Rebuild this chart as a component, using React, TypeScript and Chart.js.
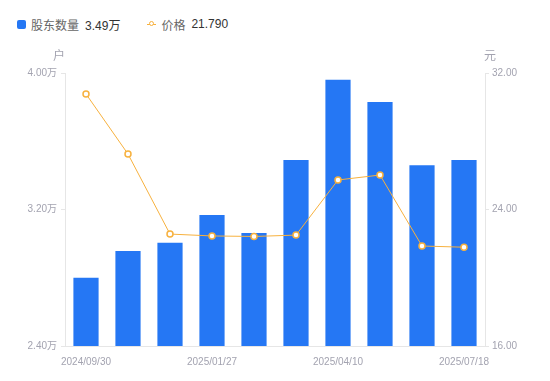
import React, { useEffect, useRef } from "react";
import { Chart, registerables } from "chart.js";

Chart.register(...registerables);

const categories = [
  "2024/09/30", "2024/10/31", "2024/12/31", "2025/01/27", "2025/02/28",
  "2025/03/31", "2025/04/10", "2025/05/30", "2025/06/30", "2025/07/18",
];
const holders = [2.80, 2.957, 3.005, 3.168, 3.062, 3.49, 3.96, 3.83, 3.46, 3.49];
const prices = [30.77, 27.25, 22.56, 22.45, 22.42, 22.5, 25.73, 26.02, 21.86, 21.79];
const leftTicks = [2.4, 3.2, 4.0];
const rightTicks = [16, 24, 32];

const FONT = "'Liberation Sans', Arial, 'Noto Sans CJK SC', sans-serif";
const BLUE = "#2577f4";
const ORANGE = "#f7b13e";
const GRAY = "#a3a3b0";

const unitPlugin = {
  id: "units",
  afterDraw(chart: any) {
    const ctx = chart.ctx;
    const a = chart.chartArea;
    ctx.save();
    ctx.font = `12px ${FONT}`;
    ctx.fillStyle = GRAY;
    ctx.textAlign = "center";
    ctx.textBaseline = "middle";
    ctx.fillText("户", a.left - 6, 57);
    ctx.fillText("元", a.right + 5, 57);
    ctx.restore();
  },
};

export default function App() {
  const ref = useRef<HTMLCanvasElement>(null);
  useEffect(() => {
    const chart = new Chart(ref.current!, {
      type: "bar",
      data: {
        labels: categories,
        datasets: [
          {
            type: "line",
            label: "价格",
            data: prices,
            yAxisID: "y1",
            borderColor: ORANGE,
            borderWidth: 1,
            pointRadius: 3,
            pointBorderWidth: 1.5,
            pointBackgroundColor: "#ffffff",
            pointBorderColor: ORANGE,
            order: 0,
          } as any,
          {
            type: "bar",
            label: "股东数量",
            data: holders,
            yAxisID: "y",
            backgroundColor: BLUE,
            categoryPercentage: 0.6,
            barPercentage: 1,
            order: 1,
          },
        ],
      },
      options: {
        animation: false,
        responsive: true,
        maintainAspectRatio: false,
        layout: { padding: { top: 73, left: 0, right: 0, bottom: 0 } },
        plugins: { legend: { display: false }, tooltip: { enabled: false } },
        scales: {
          x: {
            grid: { display: false },
            border: { color: "#e6e6e6" },
            ticks: {
              autoSkip: false,
              maxRotation: 0,
              color: GRAY,
              font: { size: 10, family: FONT },
              padding: 2,
              callback: (_v: any, i: number) => (i % 3 === 0 ? categories[i] : ""),
            },
            afterFit: (s: any) => { s.height = 35; },
          },
          y: {
            position: "left",
            min: 2.4,
            max: 4.0,
            afterBuildTicks: (s: any) => { s.ticks = leftTicks.map((v) => ({ value: v })); },
            grid: { drawOnChartArea: false, tickLength: 4, color: "#e6e6e6" },
            border: { color: "#e6e6e6" },
            ticks: {
              color: GRAY,
              font: { size: 10, family: FONT },
              padding: 4,
              callback: (v: any) => Number(v).toFixed(2) + "万",
            },
            afterFit: (s: any) => { s.width = 65; },
          },
          y1: {
            position: "right",
            min: 16,
            max: 32,
            afterBuildTicks: (s: any) => { s.ticks = rightTicks.map((v) => ({ value: v })); },
            grid: { drawOnChartArea: false, tickLength: 4, color: "#e6e6e6" },
            border: { color: "#e6e6e6" },
            ticks: {
              color: GRAY,
              font: { size: 10, family: FONT },
              padding: 3,
              callback: (v: any) => Number(v).toFixed(2),
            },
            afterFit: (s: any) => { s.width = 65; },
          },
        },
      },
      plugins: [unitPlugin],
    });
    return () => chart.destroy();
  }, []);

  const legendText: React.CSSProperties = { fontSize: 12, color: "#666", marginRight: 6 };
  const legendVal: React.CSSProperties = { fontSize: 12, color: "#333" };
  return (
    <div style={{ position: "fixed", left: 0, top: 0, width: 550, height: 381, background: "#fff", fontFamily: FONT }}>
      <div style={{ position: "absolute", left: 17, top: 16, display: "flex", alignItems: "center", height: 16 }}>
        <span style={{ width: 9, height: 9, background: BLUE, borderRadius: 2, marginRight: 5, display: "inline-block" }} />
        <span style={legendText}>股东数量</span>
        <span style={legendVal}>{holders[holders.length - 1].toFixed(2)}万</span>
        <span style={{ position: "relative", width: 9, height: 8, marginLeft: 27, marginRight: 5, display: "inline-block" }}>
          <span style={{ position: "absolute", left: 0, top: 3.5, width: 9, height: 1, background: ORANGE }} />
          <span style={{ position: "absolute", left: 2, top: 1, width: 3, height: 3, border: `1.5px solid ${ORANGE}`, borderRadius: "50%", background: "#fff" }} />
        </span>
        <span style={legendText}>价格</span>
        <span style={legendVal}>{prices[prices.length - 1].toFixed(3)}</span>
      </div>
      <canvas ref={ref} style={{ position: "absolute", left: 0, top: 0, width: 550, height: 381 }} width={550} height={381} />
    </div>
  );
}
